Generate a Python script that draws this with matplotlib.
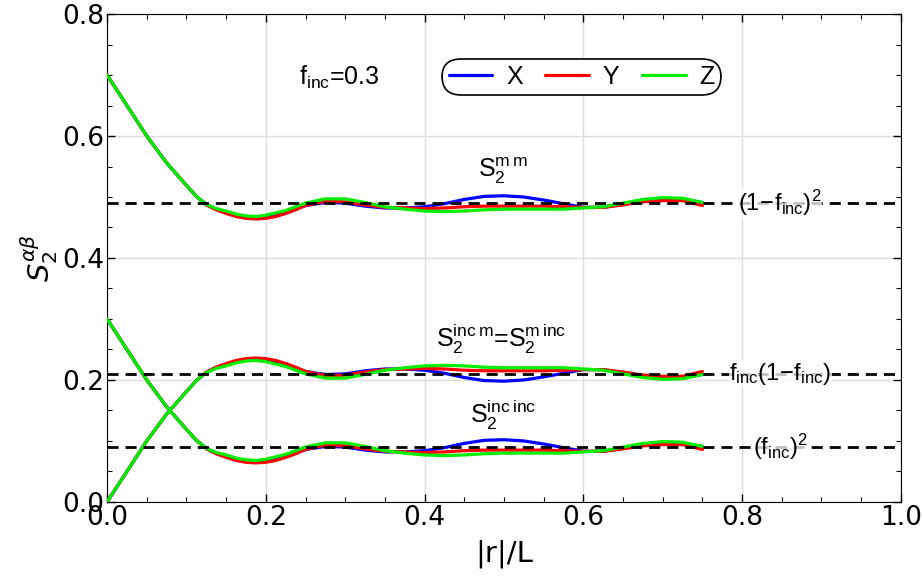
import matplotlib
matplotlib.use("Agg")
import matplotlib.pyplot as plt
from matplotlib.ticker import MultipleLocator

# ---------------- data ----------------
r_over_L = [0.000, 0.025, 0.050, 0.075, 0.100, 0.1125, 0.125, 0.1375, 0.150, 0.1625,
            0.175, 0.1875, 0.200, 0.2125, 0.225, 0.2375,
            0.250, 0.275, 0.300, 0.325, 0.350, 0.375, 0.400, 0.425, 0.450, 0.475,
            0.500, 0.525, 0.550, 0.575, 0.600, 0.625, 0.650, 0.675, 0.700, 0.725, 0.750]

# S2^{m m}
mm_X = [0.700, 0.650, 0.600, 0.556, 0.519, 0.501, 0.488, 0.480, 0.475, 0.470,
        0.467, 0.466, 0.467, 0.470, 0.474, 0.480,
        0.486, 0.491, 0.490, 0.485, 0.482, 0.482, 0.484, 0.489, 0.496, 0.501,
        0.502, 0.500, 0.495, 0.489, 0.483, 0.483, 0.488, 0.494, 0.496, 0.496, 0.491]
mm_Y = [0.700, 0.650, 0.600, 0.556, 0.519, 0.501, 0.487, 0.479, 0.473, 0.468,
        0.465, 0.464, 0.465, 0.468, 0.473, 0.479,
        0.486, 0.493, 0.492, 0.487, 0.483, 0.482, 0.481, 0.482, 0.484, 0.485,
        0.485, 0.485, 0.485, 0.484, 0.483, 0.483, 0.487, 0.492, 0.494, 0.494, 0.486]
mm_Z = [0.700, 0.650, 0.600, 0.556, 0.519, 0.501, 0.488, 0.481, 0.477, 0.472,
        0.469, 0.468, 0.470, 0.474, 0.478, 0.484,
        0.490, 0.497, 0.497, 0.491, 0.484, 0.480, 0.477, 0.476, 0.477, 0.479,
        0.480, 0.480, 0.480, 0.480, 0.482, 0.484, 0.490, 0.496, 0.499, 0.498, 0.491]

# S2^{inc m} = S2^{m inc}
im_X = [0.000, 0.050, 0.100, 0.144, 0.181, 0.199, 0.212, 0.220, 0.225, 0.230,
        0.233, 0.234, 0.233, 0.230, 0.226, 0.220,
        0.214, 0.209, 0.210, 0.215, 0.218, 0.218, 0.216, 0.211, 0.204, 0.199,
        0.198, 0.200, 0.205, 0.211, 0.217, 0.217, 0.212, 0.206, 0.204, 0.204, 0.209]
im_Y = [0.000, 0.050, 0.100, 0.144, 0.181, 0.199, 0.213, 0.221, 0.227, 0.232,
        0.235, 0.236, 0.235, 0.232, 0.227, 0.221,
        0.214, 0.207, 0.208, 0.213, 0.217, 0.218, 0.219, 0.218, 0.216, 0.215,
        0.215, 0.215, 0.215, 0.216, 0.217, 0.217, 0.213, 0.208, 0.206, 0.206, 0.214]
im_Z = [0.000, 0.050, 0.100, 0.144, 0.181, 0.199, 0.212, 0.219, 0.223, 0.228,
        0.231, 0.232, 0.230, 0.226, 0.222, 0.216,
        0.210, 0.203, 0.203, 0.209, 0.216, 0.220, 0.223, 0.224, 0.223, 0.221,
        0.220, 0.220, 0.220, 0.220, 0.218, 0.216, 0.210, 0.204, 0.201, 0.202, 0.209]

# S2^{inc inc}
ii_X = [0.300, 0.250, 0.200, 0.156, 0.119, 0.101, 0.088, 0.080, 0.075, 0.070,
        0.067, 0.066, 0.067, 0.070, 0.074, 0.080,
        0.086, 0.091, 0.090, 0.085, 0.082, 0.082, 0.084, 0.089, 0.096, 0.101,
        0.102, 0.100, 0.095, 0.089, 0.083, 0.083, 0.088, 0.094, 0.096, 0.096, 0.091]
ii_Y = [0.300, 0.250, 0.200, 0.156, 0.119, 0.101, 0.087, 0.079, 0.073, 0.068,
        0.065, 0.064, 0.065, 0.068, 0.073, 0.079,
        0.086, 0.093, 0.092, 0.087, 0.083, 0.082, 0.081, 0.082, 0.084, 0.085,
        0.085, 0.085, 0.085, 0.084, 0.083, 0.083, 0.087, 0.092, 0.094, 0.094, 0.086]
ii_Z = [0.300, 0.250, 0.200, 0.156, 0.119, 0.101, 0.088, 0.081, 0.077, 0.072,
        0.069, 0.068, 0.070, 0.074, 0.078, 0.084,
        0.090, 0.097, 0.097, 0.091, 0.084, 0.080, 0.077, 0.076, 0.077, 0.079,
        0.080, 0.080, 0.080, 0.080, 0.082, 0.084, 0.090, 0.096, 0.099, 0.098, 0.091]

f_inc = 0.3
ref_levels = [(1 - f_inc) ** 2, f_inc * (1 - f_inc), f_inc ** 2]
ref_labels = [r"$\mathregular{(1\!-\!f_{inc})^2}$",
              r"$\mathregular{f_{inc}(1\!-\!f_{inc})}$",
              r"$\mathregular{(f_{inc})^2}$"]
series_names = ["X", "Y", "Z"]
series_colors = ["#0000ff", "#ff0000", "#00ee00"]

# ---------------- figure ----------------
fig = plt.figure(figsize=(9.23, 5.85), dpi=100)
ax = fig.add_axes([0.116, 0.142, 0.860, 0.834])

groups = [(mm_X, mm_Y, mm_Z), (im_X, im_Y, im_Z), (ii_X, ii_Y, ii_Z)]
for gi, grp in enumerate(groups):
    for si, vals in enumerate(grp):
        ax.plot(r_over_L, vals, color=series_colors[si], lw=2.3,
                solid_joinstyle="round", solid_capstyle="round",
                label=series_names[si] if gi == 0 else None, zorder=3 + si)

for lvl in ref_levels:
    ax.axhline(lvl, color="black", lw=2.0, ls=(0, (4, 2.5)), zorder=6)

ann_font = dict(family="Liberation Sans", fontsize=18)
for lvl, lab in zip(ref_levels, ref_labels):
    ax.text(0.848, lvl, lab, ha="center", va="center", zorder=7,
            bbox=dict(facecolor="white", edgecolor="none", alpha=0.75, pad=0.3),
            family="Liberation Sans", fontsize=17)

ax.text(0.293, 0.871, r"$\mathregular{f_{inc}}$=0.3", transform=ax.transAxes,
        ha="center", va="center", **ann_font)
ax.text(0.499, 0.543, r"$\mathregular{S_2^{m\,m}}$", ha="center", va="center", **ann_font)
ax.text(0.497, 0.268, r"$\mathregular{S_2^{inc\,m}}$=$\mathregular{S_2^{m\,inc}}$",
        ha="center", va="center", **ann_font)
ax.text(0.499, 0.143, r"$\mathregular{S_2^{inc\,inc}}$", ha="center", va="center", **ann_font)

ax.set_xlim(0, 1.0)
ax.set_ylim(0, 0.8)
ax.xaxis.set_major_locator(MultipleLocator(0.2))
ax.xaxis.set_minor_locator(MultipleLocator(0.05))
ax.yaxis.set_major_locator(MultipleLocator(0.2))
ax.yaxis.set_minor_locator(MultipleLocator(0.05))
ax.tick_params(which="both", direction="in", top=True, right=True, labelsize=19)
ax.tick_params(which="major", length=6, width=1, pad=2)
ax.tick_params(which="minor", length=3.5, width=0.8)
ax.grid(True, which="major", color="#dddddd", lw=1)
ax.set_axisbelow(True)

ax.set_xlabel("|r|/L", fontsize=21, labelpad=6)
ax.set_ylabel(r"$S_2^{\alpha\beta}$", fontsize=21, labelpad=2)

leg = ax.legend(loc="center", bbox_to_anchor=(0.598, 0.871), ncol=3,
                frameon=True, fancybox=True, edgecolor="black", framealpha=1,
                handlelength=1.75, columnspacing=0.9, handletextpad=0.55,
                borderpad=0.15, borderaxespad=0,
                prop={"family": "Liberation Sans", "size": 18})
leg.get_frame().set_boxstyle("round,pad=0.1,rounding_size=0.75")
leg.get_frame().set_linewidth(1.2)

fig.savefig("out.png", dpi=100)
